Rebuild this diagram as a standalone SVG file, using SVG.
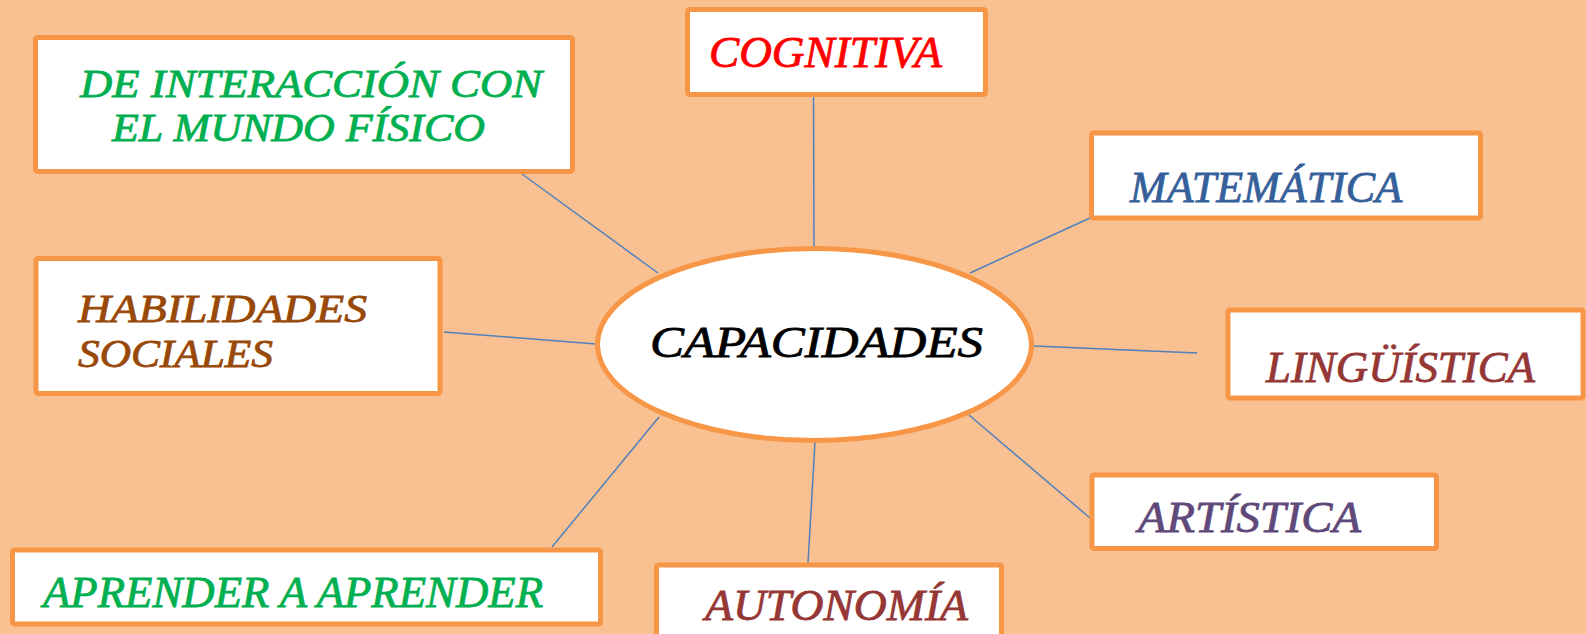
<svg xmlns="http://www.w3.org/2000/svg" width="1586" height="634" viewBox="0 0 1586 634">
  <style>
    .box { fill: #FFFFFF; stroke: #F79646; stroke-width: 5; }
    .conn { stroke: #4F81BD; stroke-width: 1.5; fill: none; }
    .t { font-family: "Liberation Serif", "DejaVu Serif", serif; font-style: italic; font-size: 44px; stroke-width: 0.8px; }
    .t2 { font-size: 39px; }
  </style>
  <rect x="0" y="0" width="1586" height="634" fill="#F9C091"/>
  <g id="connectors">
    <line class="conn" x1="813.5" y1="97" x2="814" y2="247"/>
    <line class="conn" x1="1090" y1="218" x2="970" y2="273"/>
    <line class="conn" x1="1034" y1="346" x2="1197" y2="353"/>
    <line class="conn" x1="969" y1="415" x2="1090" y2="518"/>
    <line class="conn" x1="815" y1="442" x2="808" y2="563"/>
    <line class="conn" x1="659" y1="417" x2="552" y2="547"/>
    <line class="conn" x1="444" y1="332" x2="596" y2="344"/>
    <line class="conn" x1="522" y1="174" x2="658" y2="273"/>
  </g>
  <g id="node-capacidades">
    <ellipse class="box" cx="814.5" cy="344.5" rx="217" ry="96"/>
    <text class="t" x="650" y="357" font-size="48" fill="#000000" stroke="#000000" textLength="333" lengthAdjust="spacingAndGlyphs">CAPACIDADES</text>
  </g>
  <g id="node-cognitiva">
    <rect class="box" x="687.5" y="9.5" width="298" height="85" rx="2"/>
    <text class="t" x="709" y="67" fill="#FF0000" stroke="#FF0000" textLength="233" lengthAdjust="spacingAndGlyphs">COGNITIVA</text>
  </g>
  <g id="node-matematica">
    <rect class="box" x="1091.5" y="133" width="389" height="85" rx="2"/>
    <text class="t" x="1130" y="202" fill="#35609A" stroke="#35609A" textLength="272" lengthAdjust="spacingAndGlyphs">MATEMÁTICA</text>
  </g>
  <g id="node-linguistica">
    <rect class="box" x="1228" y="310" width="355" height="88" rx="2"/>
    <text class="t" x="1266" y="382" fill="#953735" stroke="#953735" textLength="269" lengthAdjust="spacingAndGlyphs">LINGÜÍSTICA</text>
  </g>
  <g id="node-artistica">
    <rect class="box" x="1092" y="475" width="344.5" height="73.5" rx="2"/>
    <text class="t" x="1138" y="532" fill="#5F497A" stroke="#5F497A" textLength="223" lengthAdjust="spacingAndGlyphs">ARTÍSTICA</text>
  </g>
  <g id="node-autonomia">
    <rect class="box" x="656.5" y="565" width="345" height="80" rx="2"/>
    <text class="t" x="705" y="620" fill="#953735" stroke="#953735" textLength="263" lengthAdjust="spacingAndGlyphs">AUTONOMÍA</text>
  </g>
  <g id="node-aprender">
    <rect class="box" x="12.5" y="550" width="588" height="74" rx="2"/>
    <text class="t" x="43" y="607" fill="#00B050" stroke="#00B050" textLength="500" lengthAdjust="spacingAndGlyphs">APRENDER A APRENDER</text>
  </g>
  <g id="node-habilidades">
    <rect class="box" x="36" y="258.5" width="404" height="135" rx="2"/>
    <text class="t t2" x="78" y="322" fill="#984807" stroke="#984807" textLength="289" lengthAdjust="spacingAndGlyphs">HABILIDADES</text>
    <text class="t t2" x="78" y="367" fill="#984807" stroke="#984807" textLength="195" lengthAdjust="spacingAndGlyphs">SOCIALES</text>
  </g>
  <g id="node-interaccion">
    <rect class="box" x="35.5" y="37.5" width="537" height="134" rx="2"/>
    <text class="t t2" x="80" y="97" fill="#00B050" stroke="#00B050" textLength="462" lengthAdjust="spacingAndGlyphs">DE INTERACCIÓN CON</text>
    <text class="t t2" x="112" y="141" fill="#00B050" stroke="#00B050" textLength="373" lengthAdjust="spacingAndGlyphs">EL MUNDO FÍSICO</text>
  </g>
</svg>
